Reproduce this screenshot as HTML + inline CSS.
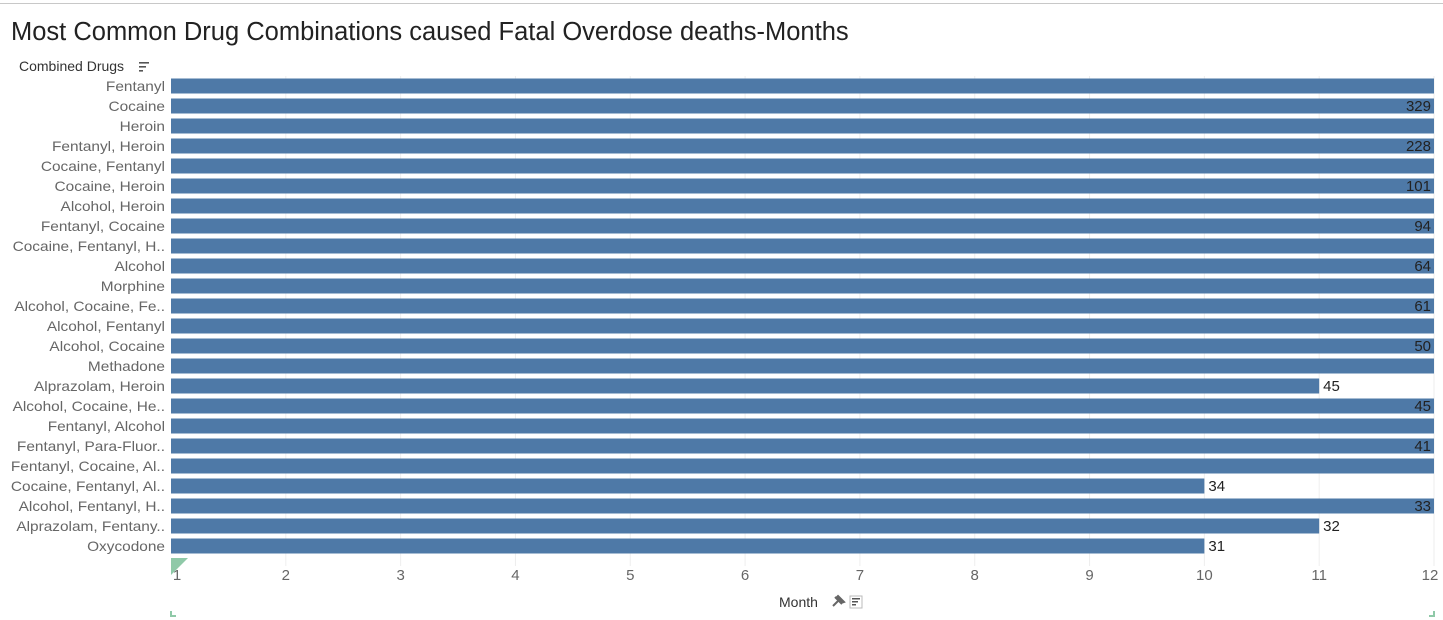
<!DOCTYPE html>
<html><head><meta charset="utf-8"><style>
body{margin:0;background:#fff;font-family:"Liberation Sans",sans-serif;}
svg{display:block}
</style></head><body>
<svg id="chart" width="1443" height="620">
<line x1="0" y1="3.5" x2="1443" y2="3.5" stroke="#c8c8c8" stroke-width="1"/>
<text x="11" y="40" font-size="25.5" fill="#222">Most Common Drug Combinations caused Fatal Overdose deaths-Months</text>
<text x="19" y="71" font-size="14" fill="#333">Combined Drugs</text>
<g fill="#555"><rect x="139" y="62" width="10" height="1.6"/><rect x="139" y="66" width="7" height="1.6"/><rect x="139" y="70" width="4" height="1.6"/></g>
<g id="grid"></g><g id="bars"></g><g id="labels"></g><g id="xticks"></g>
<polygon points="171,558 188,558 171,575" fill="#8fc9a8"/>
<text x="779" y="607" font-size="14" fill="#333">Month</text>
<path d="M833 606 l5 -5 m-3 -4 l7 7 m-4 -8 l6 6 l-3 1 l-5 -5 z" stroke="#666" stroke-width="2" fill="#666"/>
<g fill="#555"><rect x="850" y="596" width="12" height="12" fill="none" stroke="#bbb"/><rect x="852" y="598" width="8" height="1.5"/><rect x="852" y="601" width="6" height="1.5"/><rect x="852" y="604" width="4" height="1.5"/></g>
<path d="M171 611 v5 h5" stroke="#8fc9a8" stroke-width="2" fill="none"/>
<path d="M1434 611 v5 h-5" stroke="#8fc9a8" stroke-width="2" fill="none"/>
</svg>
<script>
const categories=["Fentanyl","Cocaine","Heroin","Fentanyl, Heroin","Cocaine, Fentanyl","Cocaine, Heroin","Alcohol, Heroin","Fentanyl, Cocaine","Cocaine, Fentanyl, H..","Alcohol","Morphine","Alcohol, Cocaine, Fe..","Alcohol, Fentanyl","Alcohol, Cocaine","Methadone","Alprazolam, Heroin","Alcohol, Cocaine, He..","Fentanyl, Alcohol","Fentanyl, Para-Fluor..","Fentanyl, Cocaine, Al..","Cocaine, Fentanyl, Al..","Alcohol, Fentanyl, H..","Alprazolam, Fentany..","Oxycodone"];
const months=[12,12,12,12,12,12,12,12,12,12,12,12,12,12,12,11,12,12,12,12,10,12,11,10];
const counts=[null,329,null,228,null,101,null,94,null,64,null,61,null,50,null,45,45,null,41,null,34,33,32,31];
const ticks=[1,2,3,4,5,6,7,8,9,10,11,12];
const ns="http://www.w3.org/2000/svg";
const x0=171,x1=1434;
function xs(v){return x0+(v-1)*(x1-x0)/11;}
function ys(i){return 86+i*20;}
function mk(t,a,p){const e=document.createElementNS(ns,t);for(const k in a)e.setAttribute(k,a[k]);document.getElementById(p).appendChild(e);return e;}
ticks.forEach(t=>{
 if(t>1){const g=mk('line',{x1:xs(t),x2:xs(t),y1:76,y2:566,stroke:'#eee'},'grid');
 
 }
 const l=mk('text',{x:xs(t)+(t==12?-4:(t==1?6:0)),y:580,'font-size':15,fill:'#666','text-anchor':'middle'},'xticks');
 l.textContent=t;
 
 
});
categories.forEach((c,i)=>{
 const y=ys(i);
 const lab=mk('text',{x:165,y:y+5,'font-size':14,fill:'#666','text-anchor':'end',textLength:0},'labels');
 lab.removeAttribute('textLength');
 lab.textContent=c;
 
 
 const w=lab.getComputedTextLength();
 lab.setAttribute('textLength',w*1.1);
 lab.setAttribute('lengthAdjust','spacingAndGlyphs');
 const b=mk('rect',{x:x0,y:y-7.5,width:xs(months[i])-x0,height:15,fill:'#4e79a7'},'bars');
 
 
 if(counts[i]!=null){
  const full=months[i]>=12;
  const v=mk('text',{x:full?xs(months[i])-3:xs(months[i])+4,y:y+5,'font-size':15,fill:'#222','text-anchor':full?'end':'start'},'labels');
  v.textContent=counts[i];
  
  
 }
});
</script>
</body></html>
